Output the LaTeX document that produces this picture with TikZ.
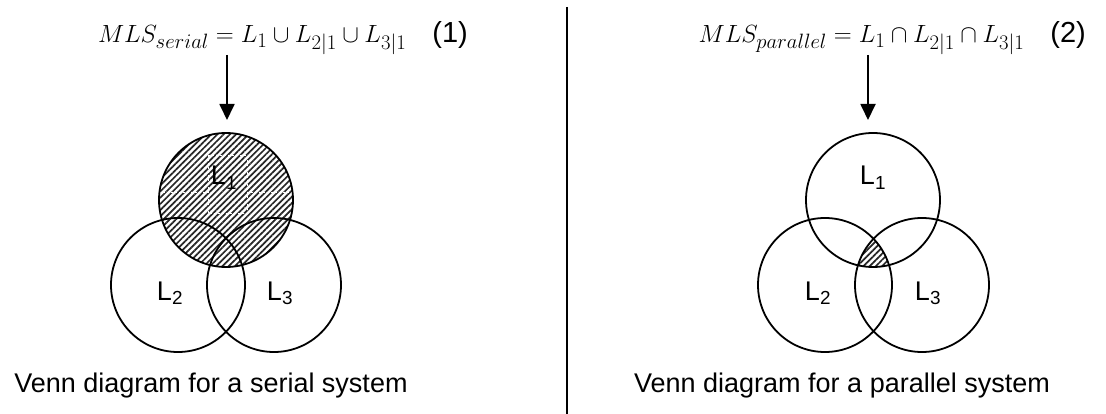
\documentclass[tikz,border=0pt]{standalone}
\usepackage[no-math]{fontspec}
\setmainfont{Liberation Sans}
\usetikzlibrary{patterns.meta,arrows.meta}
\begin{document}
\begin{tikzpicture}[x=1pt,y=-1pt,
  venn/.style={draw=black,line width=1.8pt,circle,minimum size=134pt,inner sep=0pt},
  lbl/.style={font=\fontsize{27}{32}\selectfont,anchor=base,inner sep=0pt},
  captxt/.style={font=\fontsize{27}{32}\selectfont,anchor=base,inner sep=0pt},
  eqn/.style={font=\fontsize{29}{34}\selectfont,anchor=base east,inner sep=0pt},
  hatch/.style={pattern={Lines[angle=45,distance=4.4pt,line width=1.7pt]},pattern color=black!85},
  arr/.style={line width=1.8pt,-{Triangle[width=15pt,length=16pt]}}]
\useasboundingbox (0,0) rectangle (1106,414);
% left: serial
\fill[hatch] (226,200) circle[radius=67pt];
\draw[white,line width=0.6pt,dash pattern=on 2pt off 2pt] (208,155) rectangle (247,213);
\draw[white,line width=0.6pt,dash pattern=on 2pt off 2pt] (159,192) -- (208,192) (247,192) -- (293,192);
\node[venn] (s1) at (226,200) {};
\node[venn] (s2) at (178,285) {};
\node[venn] (s3) at (274,285) {};
\node[lbl] (ls1) at (224,185) {L\textsubscript{1}};
\node[lbl] (ls2) at (170,300) {L\textsubscript{2}};
\node[lbl] (ls3) at (280,300) {L\textsubscript{3}};
\node[eqn] (eq1) at (468,43) {$MLS_{serial} = L_1 \cup L_{2|1} \cup L_{3|1}$\hspace{26pt}(1)};
\coordinate (a1s) at (227,55);
\coordinate (a1e) at (227,120);
\draw[arr] (a1s) -- (a1e);
\node[captxt] (c1) at (211,392) {Venn diagram for a serial system};
% divider
\coordinate (d1) at (567,7);
\coordinate (d2) at (567,414);
\draw[line width=2pt] (d1) -- (d2);
% right: parallel
\begin{scope}
\clip (873,200) circle[radius=67pt];
\clip (825,285) circle[radius=67pt];
\fill[hatch] (922,285) circle[radius=67pt];
\end{scope}
\node[venn] (p1) at (873,200) {};
\node[venn] (p2) at (825,285) {};
\node[venn] (p3) at (922,285) {};
\node[lbl] (lp1) at (873,185) {L\textsubscript{1}};
\node[lbl] (lp2) at (818,300) {L\textsubscript{2}};
\node[lbl] (lp3) at (928,300) {L\textsubscript{3}};
\node[eqn] (eq2) at (1086,43) {$MLS_{parallel} = L_1 \cap L_{2|1} \cap L_{3|1}$\hspace{26pt}(2)};
\coordinate (a2s) at (868,55);
\coordinate (a2e) at (868,120);
\draw[arr] (a2s) -- (a2e);
\node[captxt] (c2) at (842,392) {Venn diagram for a parallel system};
\end{tikzpicture}
\end{document}
